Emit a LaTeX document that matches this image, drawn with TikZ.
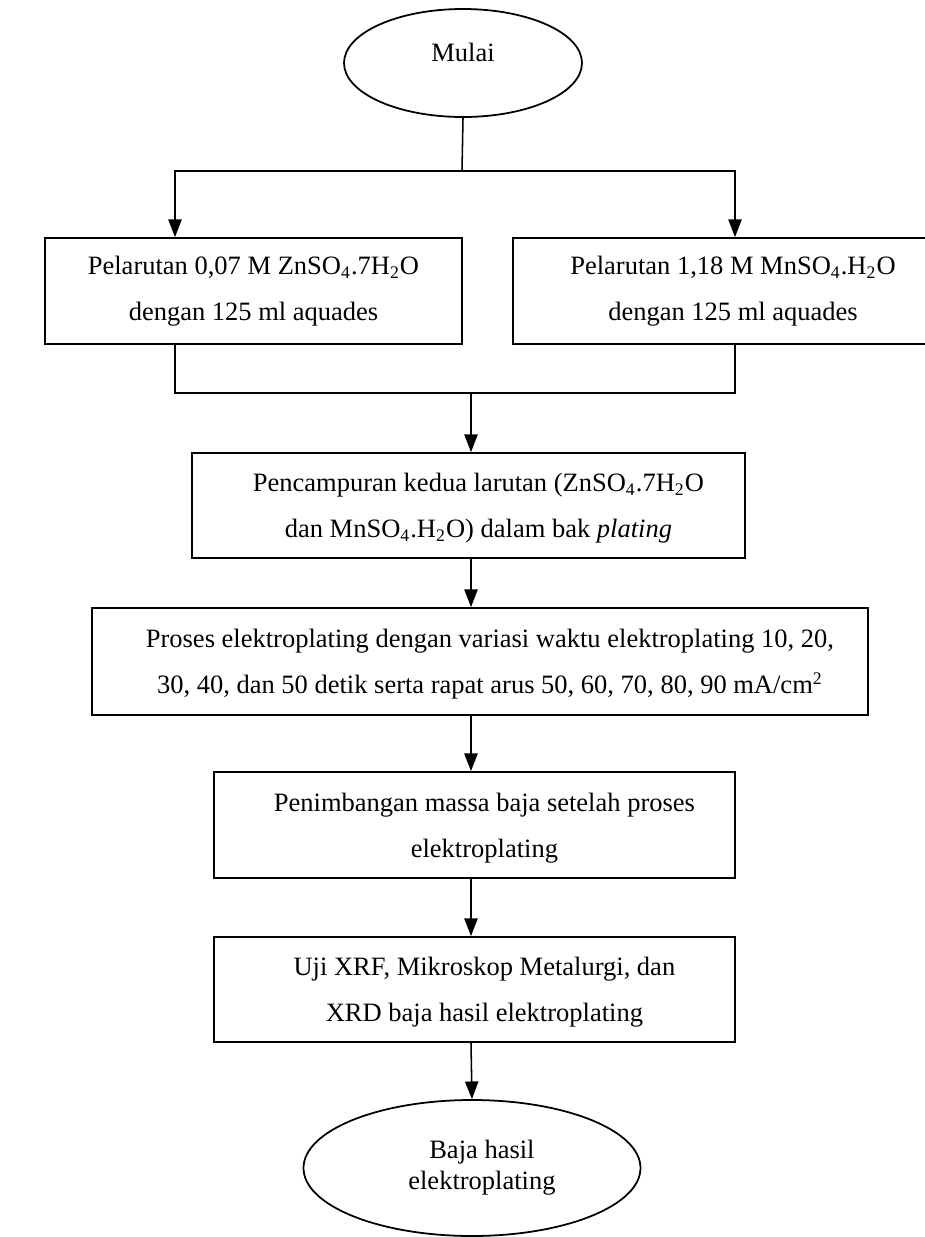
\documentclass[tikz,border=0pt]{standalone}
\usepackage{fontspec}
\setmainfont{Liberation Serif}
\usepackage{tikz}
\usetikzlibrary{arrows.meta,positioning,shapes.geometric}
\newcommand{\pxu}{0.4528pt}
% text sits a little right of the box centre, as in the reference
\newcommand{\fcshift}[1]{\hspace*{9pt}\begin{tabular}{@{}c@{}}#1\end{tabular}}
\tikzset{
  fcsize/.style 2 args={minimum width=#1*\pxu, minimum height=#2*\pxu},
  fcbox/.style  ={rectangle, draw=black, line width=0.8pt, inner sep=0pt,
                  align=center, font=\fontsize{12}{20.8}\selectfont},
  fcoval/.style ={ellipse, draw=black, line width=0.8pt, inner sep=0pt,
                  align=center, font=\fontsize{12}{14}\selectfont},
  fcline/.style ={line width=0.7pt},
  fcarrow/.style={-{Triangle[length=8pt,width=6pt]}, line width=0.7pt},
}

\begin{document}
\begin{tikzpicture}[x=\pxu, y=-\pxu]
  \useasboundingbox (0,0) rectangle (925,1237);
  % start and the two solutions
  \node[fcoval, fcsize={238}{108}] (start) at (463,63) {\raisebox{10pt}{Mulai}};
  \node[fcbox, fcsize={417}{106}] (znso) at (253.5,291)
    {Pelarutan 0,07 M ZnSO\textsubscript{4}.7H\textsubscript{2}O\\dengan 125 ml aquades};
  \node[fcbox, fcsize={440}{106}] (mnso) at (733,291)
    {Pelarutan 1,18 M MnSO\textsubscript{4}.H\textsubscript{2}O\\dengan 125 ml aquades};
  % process steps
  \node[fcbox, fcsize={553}{105}] (mix) at (468.5,505.5)
    {\fcshift{Pencampuran kedua larutan (ZnSO\textsubscript{4}.7H\textsubscript{2}O\\dan MnSO\textsubscript{4}.H\textsubscript{2}O) dalam bak \textit{plating}}};
  \node[fcbox, fcsize={776}{107}] (proc) at (480,661.5)
    {\fcshift{Proses elektroplating dengan variasi waktu elektroplating 10, 20,\\30, 40, dan 50 detik serta rapat arus 50, 60, 70, 80, 90 mA/cm\textsuperscript{2}}};
  \node[fcbox, fcsize={521}{106}] (weigh) at (474.5,825)
    {\fcshift{Penimbangan massa baja setelah proses\\elektroplating}};
  \node[fcbox, fcsize={521}{105}] (test) at (474.5,989.5)
    {\fcshift{Uji XRF, Mikroskop Metalurgi, dan\\XRD baja hasil elektroplating}};
  \node[fcoval, fcsize={337}{136}] (finish) at (472,1168)
    {\raisebox{2.3pt}{\fcshift{Baja hasil\\elektroplating}}};

  \coordinate (split) at (462,171);
  \coordinate (join) at (471,393);
  \coordinate (lcol) at (175,0);
  \coordinate (rcol) at (735,0);

  \draw[fcline] (start.south) -- (split);
  \draw[fcarrow] (split) -| (znso.north -| lcol);
  \draw[fcarrow] (split) -| (mnso.north -| rcol);
  \draw[fcline] (znso.south -| lcol) |- (join);
  \draw[fcline] (mnso.south -| rcol) |- (join);
  \draw[fcarrow] (join) -- (mix.north -| join);
  \draw[fcarrow] (mix.south -| join) -- (proc.north -| join);
  \draw[fcarrow] (proc.south -| join) -- (weigh.north -| join);
  \draw[fcarrow] (weigh.south -| join) -- (test.north -| join);
  \draw[fcarrow] (test.south -| join) -- (finish.north);
\end{tikzpicture}
\end{document}
